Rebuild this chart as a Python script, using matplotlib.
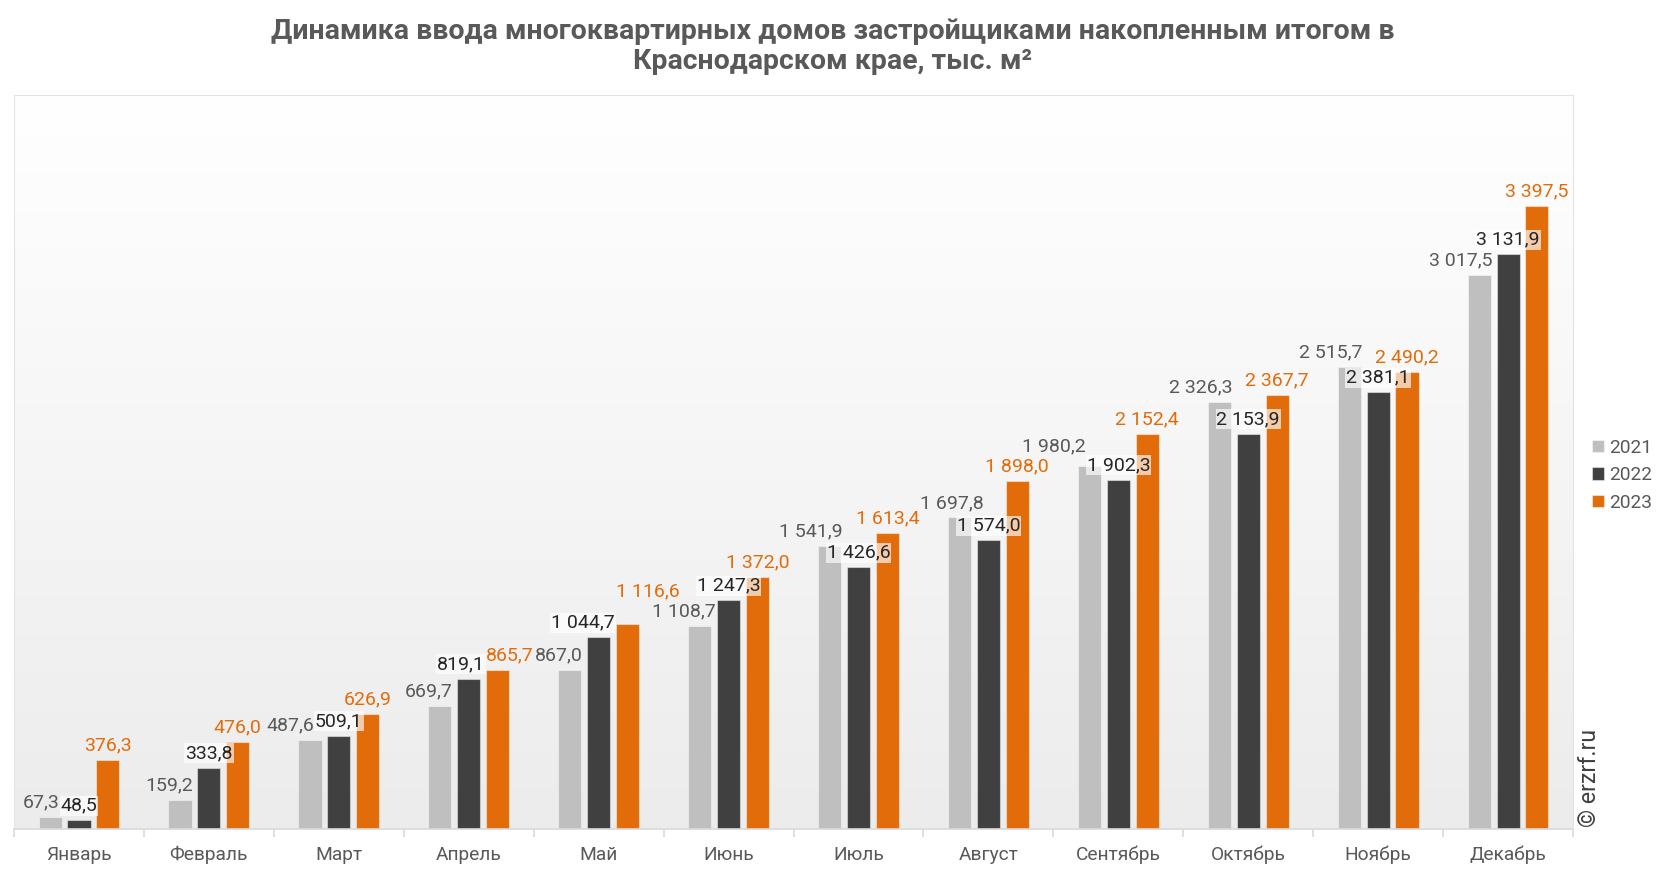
import numpy as np
import matplotlib.pyplot as plt
from matplotlib.colors import LinearSegmentedColormap

plt.rcParams['font.family'] = ['Roboto', 'DejaVu Sans']

# Данные
months = ['Январь', 'Февраль', 'Март', 'Апрель', 'Май', 'Июнь',
          'Июль', 'Август', 'Сентябрь', 'Октябрь', 'Ноябрь', 'Декабрь']
years = ['2021', '2022', '2023']
v2021 = [67.3, 159.2, 487.6, 669.7, 867.0, 1108.7, 1541.9, 1697.8, 1980.2, 2326.3, 2515.7, 3017.5]
v2022 = [48.5, 333.8, 509.1, 819.1, 1044.7, 1247.3, 1426.6, 1574.0, 1902.3, 2153.9, 2381.1, 3131.9]
v2023 = [376.3, 476.0, 626.9, 865.7, 1116.6, 1372.0, 1613.4, 1898.0, 2152.4, 2367.7, 2490.2, 3397.5]

bar_colors = ['#bfbfbf', '#404040', '#e36c0a']
label_colors = ['#595959', '#262626', '#e36c0a']


def fmt(v):
    return f'{v:,.1f}'.replace(',', ' ').replace('.', ',')


fig = plt.figure(figsize=(16.66, 8.72), dpi=100)
ax = fig.add_axes([0.0084, 0.0493, 0.9358, 0.8417])

# Фон с градиентом (белый сверху, светло-серый снизу)
cmap = LinearSegmentedColormap.from_list('bg', ['#ffffff', '#ececec'])
grad = np.linspace(0, 1, 256).reshape(-1, 1)
ax.imshow(grad, aspect='auto', cmap=cmap, extent=[-0.5, 11.5, 0, 4000],
          zorder=0)

x = np.arange(len(months))
width = 0.178
step = 0.222
series = [v2021, v2022, v2023]
labels = [[], [], []]
for i, vals in enumerate(series):
    pos = x + (i - 1) * step
    ax.bar(pos, vals, width, color=bar_colors[i], label=years[i],
           edgecolor=(1, 1, 1, 0.45), linewidth=0.8, zorder=2)
    for xp, v in zip(pos, vals):
        if i == 0:
            t = ax.annotate(fmt(v), (xp + width / 2 + 0.01, v), xytext=(0, 4),
                            textcoords='offset points', ha='right', va='bottom',
                            fontsize=14, color=label_colors[i], zorder=4)
        else:
            t = ax.annotate(fmt(v), (xp, v), xytext=(0, 4),
                            textcoords='offset points', ha='center', va='bottom',
                            fontsize=14, color=label_colors[i], zorder=4,
                            bbox=dict(boxstyle='square,pad=0.05', fc='white',
                                      ec='none', alpha=0.65) if i == 1 else None)
        labels[i].append(t)

ax.set_xlim(-0.5, 11.5)
ax.set_ylim(0, 4000)
ax.set_yticks([])
ax.set_xticks(x)
ax.set_xticklabels(months, fontsize=13.8, color='#595959')
ax.set_xticks(np.arange(-0.5, 12, 1), minor=True)
ax.tick_params(axis='x', which='major', length=0, pad=12)
ax.tick_params(axis='x', which='minor', length=6, color='#d9d9d9', width=1.2)
for side in ['top', 'left', 'right']:
    ax.spines[side].set_color('#e3e3e3')
ax.spines['bottom'].set_color('#d9d9d9')
ax.spines['bottom'].set_linewidth(1.2)

fig.suptitle('Динамика ввода многоквартирных домов застройщиками накопленным итогом в\n'
             'Краснодарском крае, тыс. м²', fontsize=20.5, fontweight='bold',
             color='#595959', y=0.979, linespacing=1.15)

leg = fig.legend(loc='center left', bbox_to_anchor=(0.951, 0.455), frameon=False,
                 fontsize=13.8, handlelength=0.6, handleheight=0.6,
                 handletextpad=0.3, labelspacing=0.5, borderaxespad=0)
for t in leg.get_texts():
    t.set_color('#595959')

fig.text(0.954, 0.052, '© erzrf.ru', rotation=90, fontsize=16.7,
         color='#404040', ha='center', va='bottom')

# Раздвигаем подписи, которые налезают друг на друга
fig.canvas.draw()
r = fig.canvas.get_renderer()
px2pt = 72 / fig.dpi


def shift(t, dx_px=0, dy_px=0):
    dx, dy = t.xyann
    t.xyann = (dx + dx_px * px2pt, dy + dy_px * px2pt)


def ext(t):
    return t.get_window_extent(r)


def vover(a, b):
    return a.y1 > b.y0 and a.y0 < b.y1


def pix(xv, yv=0):
    return ax.transData.transform((xv, yv))


for m in range(len(months)):
    l1, l2, l3 = labels[0][m], labels[1][m], labels[2][m]
    bar3_left = pix(x[m] + step - width / 2)[0]
    b2, b3 = ext(l2), ext(l3)
    if vover(b2, b3):
        ov = b2.x1 - b3.x0 + 1
        if ov > 0:
            right = min(ov, max(0, bar3_left - b3.x0))
            shift(l3, right)
            shift(l2, -(ov - right))
    b1, b2 = ext(l1), ext(l2)
    if vover(b1, b2):
        ov = b1.x1 - b2.x0 + 1
        if ov > 0:
            shift(l1, -ov)

# подпись 2023 и подпись 2021 следующего месяца
for m in range(len(months) - 1):
    l3, nxt, nxt2 = labels[2][m], labels[0][m + 1], labels[1][m + 1]
    b3, bn, bn2 = ext(l3), ext(nxt), ext(nxt2)
    if not (vover(b3, bn) and b3.x1 > bn.x0):
        continue
    ov = b3.x1 - bn.x0 + 1
    # сначала сдвигаем подпись 2021 вправо (до центра над столбиком)
    centre = pix(x[m + 1] - step)[0]
    room = max(0, centre - (bn.x0 + bn.x1) / 2)
    if vover(bn, bn2):
        room = min(room, max(0, bn2.x0 - bn.x1 - 1))
    bar2_left, bar2_top = pix(x[m + 1] - width / 2, v2022[m + 1])
    if bn.y0 < bar2_top:
        room = min(room, max(0, bar2_left - bn.x1 - 1))
    d = min(ov, room)
    shift(nxt, d)
    ov -= d
    if ov > 0:
        # поднимаем более высокую из двух подписей
        b3, bn = ext(l3), ext(nxt)
        if bn.y0 >= b3.y0:
            shift(nxt, 0, b3.y1 - bn.y0 + 2)
        else:
            shift(l3, 0, bn.y1 - b3.y0 + 2)

fig.savefig('out.png', dpi=100)
